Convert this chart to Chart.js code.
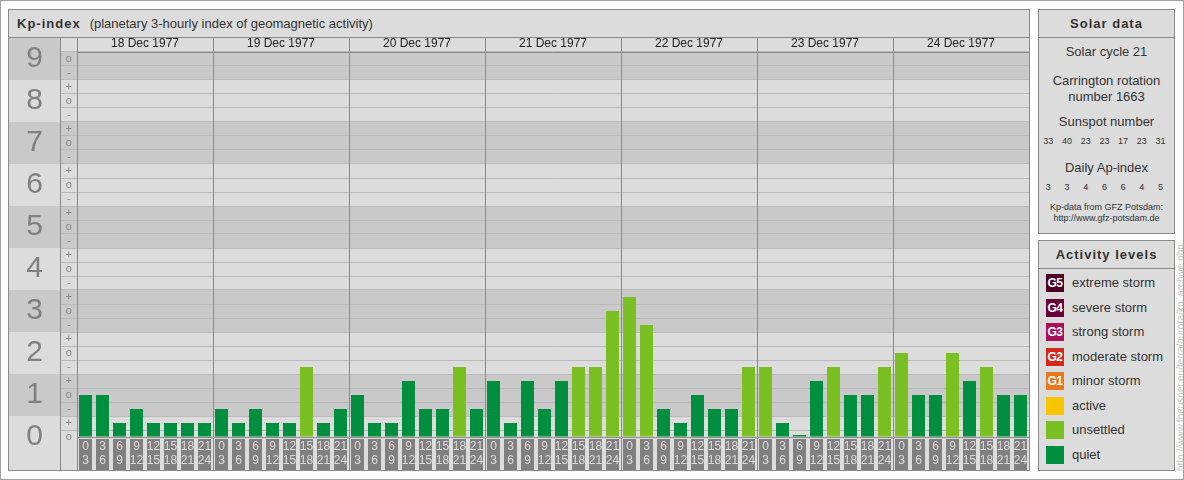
<!DOCTYPE html>
<html>
<head>
<meta charset="utf-8">
<title>Kp-index 18-24 Dec 1977</title>
<script src="https://cdn.jsdelivr.net/npm/chart.js@4/dist/chart.umd.min.js"></script>
<style>
  body { margin: 0; background: #fff; font-family: "Liberation Sans", Arial, sans-serif; color: #333; }
  #page { position: relative; width: 1184px; height: 480px; box-sizing: border-box; border: 1px solid #a0a0a0; overflow: hidden; }
  .panel { position: absolute; box-sizing: border-box; border: 1px solid #8a8a8a; background: #dcdcdc; }
  .head { position: absolute; left: 0; right: 0; top: 0; height: 28px; box-sizing: border-box; border-bottom: 1px solid #8a8a8a; line-height: 27px; font-size: 13px; white-space: nowrap; }
  .head b { letter-spacing: 1px; }
  #main { left: 7px; top: 8px; width: 1022px; height: 462px; }
  #main .head { padding-left: 8px; }
  #main .head span { margin-left: 9px; }
  #kp { position: absolute; left: 0; top: 28px; }
  #solar { left: 1037px; top: 8px; width: 137px; height: 225px; }
  #levels { left: 1037px; top: 239px; width: 137px; height: 231px; }
  .side .head { text-align: center; }
  .line { position: absolute; left: 0; right: 0; text-align: center; font-size: 13px; line-height: 14px; white-space: nowrap; }
  .small { font-size: 9px; line-height: 10px; }
  .row { position: absolute; left: 0; display: flex; font-size: 9px; line-height: 10px; }
  .row div { width: 18.7px; text-align: center; }
  .lev { position: absolute; left: 7px; height: 18px; line-height: 18px; font-size: 13px; white-space: nowrap; }
  .sw { display: inline-block; vertical-align: top; width: 18px; height: 18px; margin-right: 8px; color: #fff; font-weight: bold; font-size: 12px; text-align: center; letter-spacing: -0.5px; }
  #credit { position: absolute; left: 1175px; top: 470px; width: 232px; height: 9px; line-height: 9px; font-size: 10px; color: #c4c4c4; white-space: nowrap; transform-origin: left top; transform: rotate(-90deg); }
</style>
</head>
<body>
<div id="page">
  <div class="panel" id="main">
    <div class="head"><b>Kp-index</b><span>(planetary 3-hourly index of geomagnetic activity)</span></div>
    <canvas id="kp" width="1020" height="432"></canvas>
  </div>
  <div class="panel side" id="solar">
    <div class="head"><b>Solar data</b></div>
    <div class="line" id="cycle" style="top:35px"></div>
    <div class="line" style="top:64px">Carrington rotation</div>
    <div class="line" id="carr" style="top:80px"></div>
    <div class="line" style="top:105px">Sunspot number</div>
    <div class="row" id="spots" style="top:126px"></div>
    <div class="line" style="top:151px">Daily Ap-index</div>
    <div class="row" id="ap" style="top:172px"></div>
    <div class="line small" style="top:192px">Kp-data from GFZ Potsdam:</div>
    <div class="line small" style="top:203px">http://www.gfz-potsdam.de</div>
  </div>
  <div class="panel side" id="levels">
    <div class="head"><b>Activity levels</b></div>
  </div>
  <div id="credit">http://www.theusner.eu/terra/aurora/kp_archive.php</div>
</div>
<script>
// ---- data ----
var dates = ['18 Dec 1977', '19 Dec 1977', '20 Dec 1977', '21 Dec 1977', '22 Dec 1977', '23 Dec 1977', '24 Dec 1977'];
var hourStart = [0, 3, 6, 9, 12, 15, 18, 21];
var hourEnd = [3, 6, 9, 12, 15, 18, 21, 24];

// Kp per 3-hour interval, in the usual thirds notation
var kp18 = ['1o', '1o', '0+', '1-', '0+', '0+', '0+', '0+'];
var kp19 = ['1-', '0+', '1-', '0+', '0+', '2-', '0+', '1-'];
var kp20 = ['1o', '0+', '0+', '1+', '1-', '1-', '2-', '1-'];
var kp21 = ['1+', '0+', '1+', '1-', '1+', '2-', '2-', '3o'];
var kp22 = ['3+', '3-', '1-', '0+', '1o', '1-', '1-', '2-'];
var kp23 = ['2-', '0+', '0o', '1+', '2-', '1o', '1o', '2-'];
var kp24 = ['2o', '1o', '1o', '2o', '1+', '2-', '1o', '1o'];
var kpDays = [kp18, kp19, kp20, kp21, kp22, kp23, kp24];

var kpLevels = [0, 1, 2, 3, 4, 5, 6, 7, 8, 9];
var subMarks = ['o', '+', '-'];

var solarCycle = 21;
var carrington = 1663;
var sunspots = [33, 40, 23, 23, 17, 23, 31];
var apDaily = [3, 3, 4, 6, 6, 4, 5];

var levelNames = ['extreme storm', 'severe storm', 'strong storm', 'moderate storm', 'minor storm', 'active', 'unsettled', 'quiet'];
var levelTags = ['G5', 'G4', 'G3', 'G2', 'G1', '', '', ''];

// ---- styles ----
var levelColors = ['#4c0026', '#6a0038', '#a8105a', '#d3281c', '#e67a1e', '#f9c400', '#7ac022', '#008f3e'];
var bandDark = '#c9c9c9';
var gridColor = '#bababa';
var edge = '#8a8a8a';
var boxGrey = '#808080';

function kpValue(s) {
    var n = Number(s[0]);
    if (s[1] === '+') return n + 1 / 3;
    if (s[1] === '-') return n - 1 / 3;
    return n;
}

function kpColor(v) {
    if (v < 1.5) return levelColors[7];
    if (v < 3.5) return levelColors[6];
    if (v < 4.5) return levelColors[5];
    if (v < 5.5) return levelColors[4];
    if (v < 6.5) return levelColors[3];
    if (v < 7.5) return levelColors[2];
    if (v < 8.5) return levelColors[1];
    return levelColors[0];
}

var slotLabels = [];
var kpValues = [];
kpDays.forEach(function (day) {
    day.forEach(function (s, i) {
        slotLabels.push([String(hourStart[i]), String(hourEnd[i])]);
        kpValues.push(kpValue(s));
    });
});

var subTicks = [];
for (var k = 0; k <= 27; k++) subTicks.push(k / 3);
var kpTop = 9 + 1 / 6;

// ---- side panels ----
document.getElementById('cycle').textContent = 'Solar cycle ' + solarCycle;
document.getElementById('carr').textContent = 'number ' + carrington;
sunspots.forEach(function (v) {
    var d = document.createElement('div'); d.textContent = v;
    document.getElementById('spots').appendChild(d);
});
apDaily.forEach(function (v) {
    var d = document.createElement('div'); d.textContent = v;
    document.getElementById('ap').appendChild(d);
});
levelNames.forEach(function (name, i) {
    var row = document.createElement('div');
    row.className = 'lev';
    row.style.top = (33 + i * 24.57) + 'px';
    var sw = document.createElement('span');
    sw.className = 'sw';
    sw.style.background = levelColors[i];
    sw.textContent = levelTags[i];
    row.appendChild(sw);
    row.appendChild(document.createTextNode(name));
    document.getElementById('levels').appendChild(row);
});

// ---- chart ----
Chart.defaults.font.family = '"Liberation Sans", Arial, sans-serif';

function zeroPad(s) {
    s.paddingTop = 0; s.paddingBottom = 0; s.paddingLeft = 0; s.paddingRight = 0;
}

var framePlugin = {
    id: 'kpFrame',
    beforeDraw: function (chart) {
        var ctx = chart.ctx, a = chart.chartArea, y = chart.scales.y, y2 = chart.scales.y2;
        ctx.save();
        ctx.fillStyle = bandDark;
        kpLevels.forEach(function (n) {
            if (n % 2 === 0) return;
            var top = n === 9 ? a.top : y.getPixelForValue(n + 0.5);
            var bottom = y.getPixelForValue(n - 0.5);
            ctx.fillRect(y2.left, top, a.right - y2.left, bottom - top);
        });
        // the "9" cell reaches up through the date row
        ctx.fillRect(y2.left, 0, y2.width, a.top);
        // grey boxes behind the hour labels
        ctx.fillStyle = boxGrey;
        chart.getDatasetMeta(0).data.forEach(function (bar) {
            var w = Math.round(bar.width);
            ctx.fillRect(Math.round(bar.x - w / 2), a.bottom + 2, w, chart.height - a.bottom - 2);
        });
        ctx.restore();
    },
    afterDraw: function (chart) {
        var ctx = chart.ctx, x = chart.scales.x;
        var xs = [chart.scales.y2.right, chart.scales.y.right];
        for (var d = 1; d < dates.length; d++) {
            xs.push((x.getPixelForValue(d * 8 - 1) + x.getPixelForValue(d * 8)) / 2);
        }
        ctx.save();
        ctx.strokeStyle = edge;
        ctx.lineWidth = 1;
        ctx.beginPath();
        xs.forEach(function (px) {
            var p = Math.round(px) + 0.5;
            ctx.moveTo(p, 0);
            ctx.lineTo(p, chart.height);
        });
        ctx.stroke();
        ctx.restore();
    }
};

new Chart(document.getElementById('kp'), {
    type: 'bar',
    data: {
        labels: slotLabels,
        datasets: [{
            data: kpValues,
            backgroundColor: function (c) { return kpColor(c.raw); },
            barPercentage: 13 / 17,
            categoryPercentage: 1,
            minBarLength: 2,
            xAxisID: 'x',
            yAxisID: 'y'
        }]
    },
    options: {
        responsive: false,
        animation: false,
        layout: { padding: 0, autoPadding: false },
        plugins: { legend: { display: false }, tooltip: { enabled: false } },
        scales: {
            x: {
                type: 'category',
                position: 'bottom',
                offset: true,
                grid: { display: false, drawTicks: false },
                border: { display: true, color: edge },
                ticks: { autoSkip: false, maxRotation: 0, minRotation: 0, padding: 3, color: '#dcdcdc', font: { size: 12, lineHeight: '14px' } },
                afterFit: function (s) { s.height = 33; zeroPad(s); }
            },
            x2: {
                type: 'category',
                position: 'top',
                labels: dates,
                offset: true,
                grid: { display: false, drawTicks: false },
                border: { display: true, color: edge },
                ticks: { autoSkip: false, maxRotation: 0, minRotation: 0, padding: 1, color: '#222', font: { size: 12 } },
                afterFit: function (s) { s.height = 14; zeroPad(s); }
            },
            y: {
                type: 'linear',
                position: 'left',
                weight: 0,
                min: 0,
                max: kpTop,
                bounds: 'data',
                afterBuildTicks: function (s) { s.ticks = subTicks.map(function (v) { return { value: v }; }); },
                grid: { offset: true, color: gridColor, tickColor: gridColor, drawTicks: true, tickLength: 17 },
                border: { display: true, color: edge },
                ticks: {
                    autoSkip: false, crossAlign: 'center', padding: -12, color: '#888', font: { size: 11 },
                    callback: function (v, i) { return subMarks[i % 3]; }
                },
                afterFit: function (s) { s.width = 17; zeroPad(s); }
            },
            y2: {
                type: 'linear',
                position: 'left',
                weight: 1,
                min: 0,
                max: kpTop,
                bounds: 'data',
                afterBuildTicks: function (s) { s.ticks = kpLevels.map(function (v) { return { value: v }; }); },
                grid: { display: false, drawTicks: false },
                border: { display: false },
                ticks: {
                    autoSkip: false, crossAlign: 'center', padding: 17, color: '#808080', font: { size: 30 },
                    callback: function (v) { return String(v); }
                },
                afterFit: function (s) { s.width = 51; zeroPad(s); }
            }
        }
    },
    plugins: [framePlugin]
});
</script>
</body>
</html>
